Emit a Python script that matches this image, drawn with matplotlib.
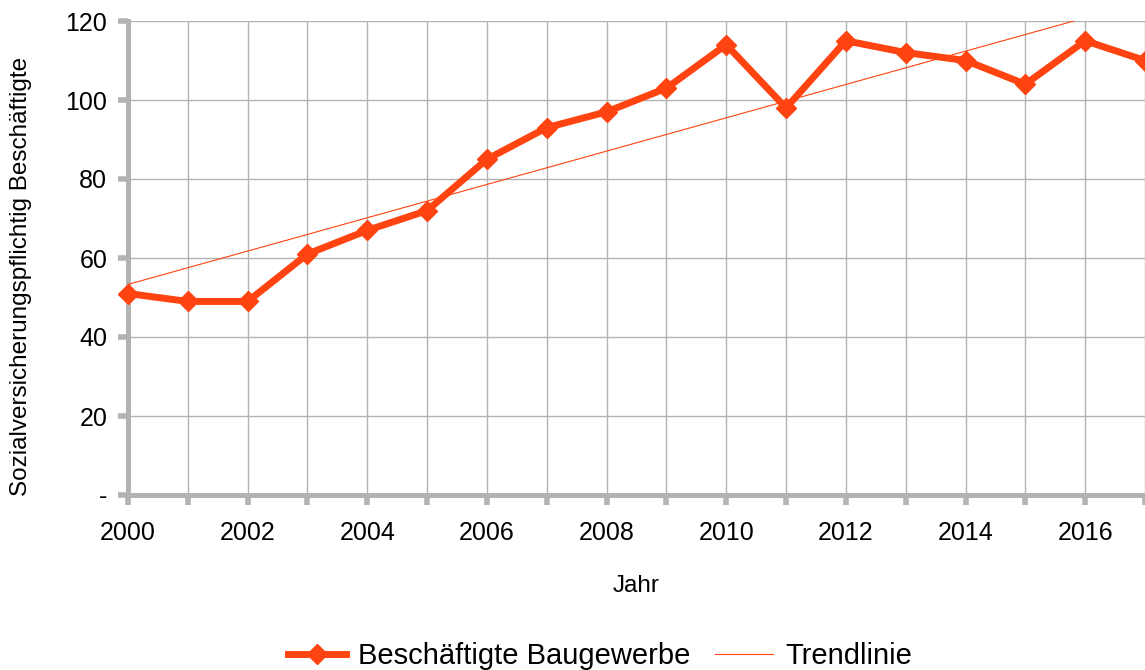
import matplotlib.pyplot as plt
import numpy as np

# data
jahre = [2000, 2001, 2002, 2003, 2004, 2005, 2006, 2007, 2008,
         2009, 2010, 2011, 2012, 2013, 2014, 2015, 2016, 2017]
beschaeftigte = [51, 49, 49, 61, 67, 72, 85, 93, 97,
                 103, 114, 98, 115, 112, 110, 104, 115, 110]
y_ticks = [0, 20, 40, 60, 80, 100, 120]
y_ticklabels = ['-', '20', '40', '60', '80', '100', '120']
x_ticks = [2000, 2002, 2004, 2006, 2008, 2010, 2012, 2014, 2016]

plt.rcParams['font.family'] = ['Liberation Sans', 'DejaVu Sans']

orange = '#ff4411'
grau = '#b3b3b3'

fig = plt.figure(figsize=(11.45, 6.7), dpi=100)
ax = fig.add_axes([128 / 1145, 175 / 670, 1 - 128 / 1145, 474 / 670])

# linear trend line
m, b = np.polyfit(jahre, beschaeftigte, 1)
xs = np.array([jahre[0], jahre[-1]])
ax.plot(xs, m * xs + b, color=orange, lw=0.8, label='Trendlinie', zorder=3)

ax.plot(jahre, beschaeftigte, color=orange, lw=5, marker='D', ms=10,
        label='Beschäftigte Baugewerbe', zorder=4, clip_on=False)

ax.set_xlim(2000, 2016.95)
ax.set_ylim(0, 120)
ax.set_xticks(jahre, minor=True)
ax.set_xticks(x_ticks)
ax.set_yticks(y_ticks)
ax.set_yticklabels(y_ticklabels)

ax.grid(True, which='both', color=grau, lw=1)
ax.set_axisbelow(True)

for s in ['top', 'right']:
    ax.spines[s].set_visible(False)
for s in ['left', 'bottom']:
    ax.spines[s].set_color(grau)
    ax.spines[s].set_linewidth(3.6)

ax.tick_params(which='both', color=grau, width=4, length=7, labelsize=18)
ax.tick_params(axis='x', pad=12)
ax.tick_params(axis='y', pad=8)

ax.set_xlabel('Jahr', fontsize=17.5, labelpad=21)
ax.set_ylabel('Sozialversicherungspflichtig Beschäftigte', fontsize=17.5)
ax.yaxis.set_label_coords(-0.094, 0.462)

handles, labels = ax.get_legend_handles_labels()
fig.legend(handles[::-1], labels[::-1], loc='center', bbox_to_anchor=(0.524, 0.021),
           ncol=2, frameon=False, fontsize=21, handlelength=2.0, columnspacing=0.85,
           handletextpad=0.4)

fig.savefig('out.png', dpi=100)
